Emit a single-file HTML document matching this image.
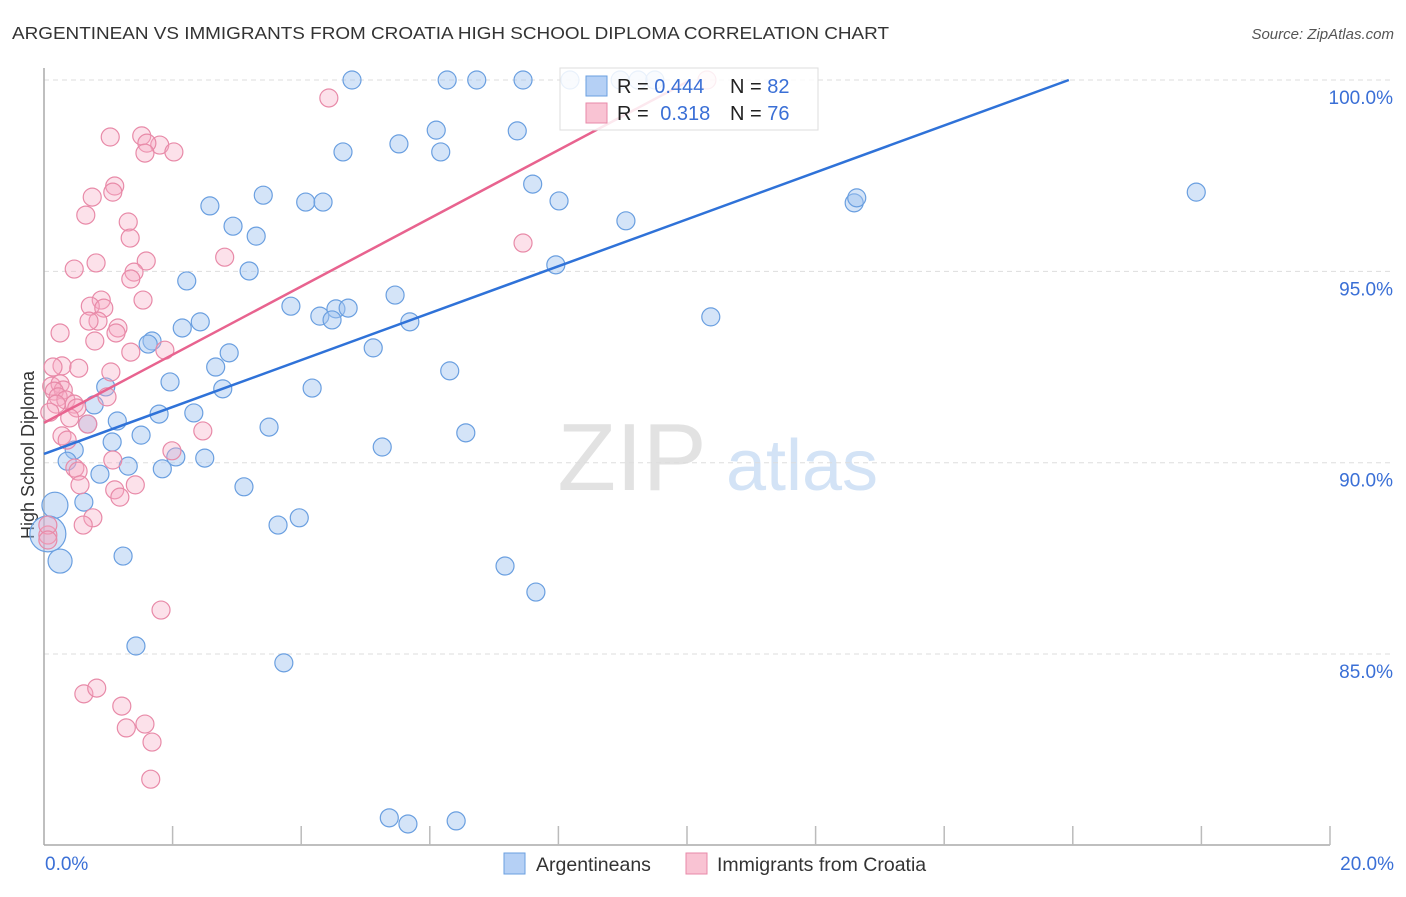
<!DOCTYPE html>
<html><head><meta charset="utf-8"><style>
body{margin:0;background:#fff;font-family:"Liberation Sans",sans-serif;}
svg text{font-family:"Liberation Sans",sans-serif;}
</style></head><body>
<svg id="chart" width="1406" height="892" viewBox="0 0 1406 892" xmlns="http://www.w3.org/2000/svg">
<text x="12" y="39" font-size="17.5" fill="#333" textLength="877" lengthAdjust="spacingAndGlyphs">ARGENTINEAN VS IMMIGRANTS FROM CROATIA HIGH SCHOOL DIPLOMA CORRELATION CHART</text>
<text x="1394" y="39" font-size="15" fill="#555" text-anchor="end" font-style="italic">Source: ZipAtlas.com</text>
<g>
<text x="632" y="490" font-size="96" fill="#e2e2e2" font-family="Liberation Serif, serif" text-anchor="middle">ZIP</text>
<text x="802" y="490" font-size="72" fill="#d3e3f6" text-anchor="middle">atlas</text>
</g>
<g id="grid"></g>
<g id="axes"></g>
<g id="pts"></g>
<g id="trend"></g>
<g>
<rect x="560" y="68" width="258" height="62" fill="#fff" fill-opacity="0.85" stroke="#ddd"/>
<rect x="586" y="76" width="21" height="20" fill="#b5d0f5" stroke="#6a9fe0"/>
<rect x="586" y="103" width="21" height="20" fill="#f9c3d3" stroke="#e88aa8"/>
<text x="617" y="93" font-size="20" fill="#222">R = <tspan fill="#3a6fd6">0.444</tspan></text>
<text x="730" y="93" font-size="20" fill="#222">N = <tspan fill="#3a6fd6">82</tspan></text>
<text x="617" y="120" font-size="20" fill="#222">R = <tspan fill="#3a6fd6" dx="6">0.318</tspan></text>
<text x="730" y="120" font-size="20" fill="#222">N = <tspan fill="#3a6fd6">76</tspan></text>
</g>
<g>
<rect x="504" y="853" width="21" height="21" fill="#b5d0f5" stroke="#6a9fe0"/>
<text x="536" y="871" font-size="19.5" fill="#333">Argentineans</text>
<rect x="686" y="853" width="21" height="21" fill="#f9c3d3" stroke="#e88aa8"/>
<text x="717" y="871" font-size="19.5" fill="#333">Immigrants from Croatia</text>
</g>
</svg>
<script>
const blueX=[4.79,6.27,6.73,7.45,8.18,8.96,9.24,9.50,6.10,7.36,5.52,4.65,6.17,7.60,3.41,2.58,4.07,4.34,8.01,9.05,12.60,12.64,17.92,2.94,3.30,3.19,7.96,2.22,3.84,5.46,4.29,4.54,4.73,4.48,5.69,10.37,2.43,2.15,1.68,1.62,2.88,5.12,2.67,6.31,1.96,0.96,2.78,4.17,0.78,2.33,1.79,1.14,0.68,3.50,6.56,1.51,1.06,5.26,0.47,0.36,2.05,2.50,1.31,1.84,0.87,3.11,0.62,0.17,0.06,0.25,3.97,3.64,1.23,7.17,7.65,1.43,3.73,5.37,5.66,6.41];
const blueY=[100,100,100,100,100,100,100,100,98.69,98.67,98.33,98.12,98.12,97.28,96.99,96.71,96.81,96.81,96.84,96.32,96.79,96.92,97.07,96.18,95.92,95.01,95.17,94.75,94.09,94.38,93.83,94.02,94.04,93.73,93.68,93.81,93.68,93.52,93.18,93.10,92.87,93.00,92.50,92.40,92.11,91.98,91.93,91.95,91.51,91.30,91.27,91.09,91.01,90.93,90.78,90.72,90.54,90.41,90.33,90.04,90.15,90.12,89.91,89.84,89.70,89.37,88.97,88.89,88.14,87.43,88.56,88.37,87.56,87.30,86.62,85.21,84.77,80.72,80.56,80.64];
const blueR=[9,9,9,9,9,9,9,9,9,9,9,9,9,9,9,9,9,9,9,9,9,9,9,9,9,9,9,9,9,9,9,9,9,9,9,9,9,9,9,9,9,9,9,9,9,9,9,9,9,9,9,9,9,9,9,9,9,9,9,9,9,9,9,9,9,9,9,13,18,12,9,9,9,9,9,9,9,9,9,9];
const pinkX=[4.43,1.03,1.52,1.80,1.60,1.57,2.02,1.10,1.07,0.75,0.65,1.31,1.34,7.45,2.81,0.81,1.59,0.47,1.40,1.35,1.54,0.89,0.72,0.93,0.84,0.70,1.15,1.12,0.25,0.79,1.88,1.35,0.28,0.54,1.04,0.14,0.12,0.25,0.30,0.16,0.22,0.34,0.19,0.47,0.98,0.51,0.09,0.40,0.68,2.47,0.28,0.36,1.99,0.48,0.53,1.07,0.56,1.10,1.42,1.18,0.76,0.61,0.06,0.06,0.06,1.82,0.62,0.82,1.21,1.28,1.57,1.68,1.66,10.31];
const pinkY=[99.53,98.51,98.54,98.30,98.35,98.09,98.12,97.23,97.07,96.94,96.47,96.29,95.87,95.74,95.37,95.22,95.27,95.06,94.98,94.80,94.25,94.25,94.09,94.04,93.70,93.70,93.52,93.39,93.39,93.18,92.94,92.89,92.53,92.47,92.37,92.50,92.00,92.06,91.90,91.87,91.72,91.64,91.53,91.53,91.72,91.43,91.32,91.17,91.01,90.83,90.70,90.59,90.31,89.86,89.78,90.07,89.42,89.29,89.42,89.10,88.56,88.37,88.11,88.37,87.98,86.15,83.96,84.11,83.64,83.07,83.17,82.70,81.73,100];
const blueTrend=[90.23,0.613];
const pinkTrend=[91.04,0.891];
const yTicks=[100,95,90,85];
const yTickLabels=["100.0%","95.0%","90.0%","85.0%"];
const xTicks=[0,2,4,6,8,10,12,14,16,18,20];
const xTickLabels=["0.0%","20.0%"];

const NS="http://www.w3.org/2000/svg";
const xs=v=>44+v*64.3;
const ys=v=>80+(100-v)*38.27;
function mk(tag,attrs,parent){const e=document.createElementNS(NS,tag);for(const k in attrs)e.setAttribute(k,attrs[k]);parent.appendChild(e);return e;}
const grid=document.getElementById('grid'),axes=document.getElementById('axes'),pts=document.getElementById('pts'),trend=document.getElementById('trend');
yTicks.forEach((t,i)=>{
 const l=mk('line',{x1:44,x2:1394,y1:ys(t),y2:ys(t),stroke:'#ddd','stroke-dasharray':'5,4'},grid);
 
 
 const tx=mk('text',{x:1393,y:ys(t)+24,'font-size':19,fill:'#3a6fd6','text-anchor':'end'},axes);
 tx.textContent=yTickLabels[i];
 
 
});
const ya=mk('line',{x1:44,x2:44,y1:68,y2:845,stroke:'#aaa','stroke-width':1.5},axes);


const xa=mk('line',{x1:44,x2:1330,y1:845,y2:845,stroke:'#aaa','stroke-width':1.5},axes);


xTicks.forEach(t=>{
 if(t===0)return;
 const l=mk('line',{x1:xs(t),x2:xs(t),y1:826,y2:845,stroke:'#bbb','stroke-width':1.5},axes);
 
 
});
const xl0=mk('text',{x:45,y:870,'font-size':19,fill:'#3a6fd6'},axes);xl0.textContent=xTickLabels[0];


const xl1=mk('text',{x:1394,y:870,'font-size':19,fill:'#3a6fd6','text-anchor':'end'},axes);xl1.textContent=xTickLabels[1];


const yt=mk('text',{x:0,y:0,'font-size':18,fill:'#333','text-anchor':'middle',transform:'translate(34,455) rotate(-90)'},axes);yt.textContent='High School Diploma';


blueX.forEach((x,i)=>{
 const c=mk('circle',{cx:xs(x),cy:ys(blueY[i]),r:blueR[i],fill:'rgba(160,196,240,0.45)',stroke:'#6a9fe0','stroke-width':1.2},pts);
 
 
});
pinkX.forEach((x,i)=>{
 const c=mk('circle',{cx:xs(x),cy:ys(pinkY[i]),r:9,fill:'rgba(245,170,195,0.35)',stroke:'#e88aa8','stroke-width':1.2},pts);
 
 
});
function tl(tr,color,name){
 const xEnd=Math.min(20,(100-tr[0])/tr[1]);
 const l=mk('line',{x1:xs(0),y1:ys(tr[0]),x2:xs(xEnd),y2:ys(tr[0]+tr[1]*xEnd),stroke:color,'stroke-width':2.5},trend);
 
 
}
tl(blueTrend,'#2f72d8','argentineans-trend-line');
tl(pinkTrend,'#e8638f','croatia-trend-line');
</script>
</body></html>
